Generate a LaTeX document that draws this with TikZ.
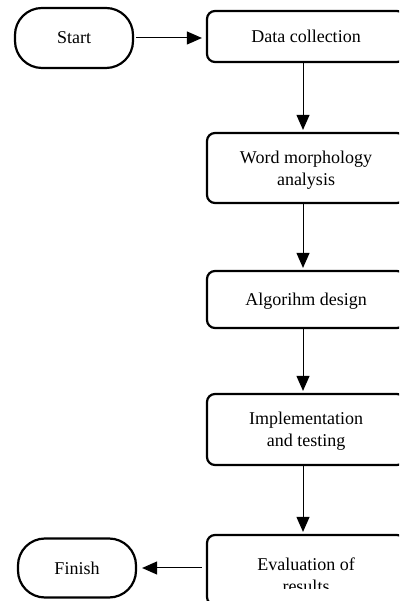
\documentclass[tikz,border=0pt]{standalone}
\usepackage{fontspec}
\setmainfont{Liberation Serif}
\usetikzlibrary{arrows.meta}
\begin{document}
\begin{tikzpicture}[x=1pt,y=1pt,
  every node/.style={font=\fontsize{18}{22}\selectfont, align=center},
  stepbox/.style={draw, line width=2.2pt, rounded corners=8pt, fill=white,
    minimum width=198pt, inner sep=0pt, text depth=0pt},
  terminal/.style={draw, line width=2.2pt, rounded corners=27pt, fill=white,
    minimum width=118pt, inner sep=0pt},
  flow/.style={line width=1pt, -{Triangle[length=15pt,width=13pt]}}]
  \useasboundingbox (0,0) rectangle (399,601);
  \clip (0,0) rectangle (399,601);
  \fill[white] (0,0) rectangle (399,601);

  % terminals
  \node[terminal, minimum height=60pt] (start) at (74,563) {Start};
  \node[terminal, minimum height=59pt] (finish) at (77,33) {Finish};

  % process steps
  \node[stepbox, minimum height=51pt] (collect) at (306,564.5) {Data collection};
  \node[stepbox, minimum height=70pt] (morph) at (306,433) {Word morphology\\analysis};
  \node[stepbox, minimum height=57pt] (algo) at (306,301.5) {Algorihm design};
  \node[stepbox, minimum height=71pt] (impl) at (306,171.5) {Implementation\\and testing};
  \node[stepbox, minimum height=70pt] (eval) at (306,31) {};
  % the caption of the last step is cut off by its frame
  \begin{scope}
    \clip (200,12) rectangle (410,70);
    \node[text depth=0pt] (evaltext) at (306,26) {Evaluation of\\results};
  \end{scope}

  % connectors
  \draw[flow, shorten <=2pt, shorten >=4pt] (start.east |- 0,563) -- (collect.west |- 0,563);
  \draw[flow, shorten >=2pt] ([xshift=-3pt]collect.south) -- ([xshift=-3pt]morph.north);
  \draw[flow, shorten >=2pt] ([xshift=-3pt]morph.south) -- ([xshift=-3pt]algo.north);
  \draw[flow, shorten >=2pt] ([xshift=-3pt]algo.south) -- ([xshift=-3pt]impl.north);
  \draw[flow, shorten >=2pt] ([xshift=-3pt]impl.south) -- ([xshift=-3pt]eval.north);
  \draw[flow, shorten <=4pt, shorten >=5pt] (eval.west |- 0,33) -- (finish.east |- 0,33);
\end{tikzpicture}
\end{document}
